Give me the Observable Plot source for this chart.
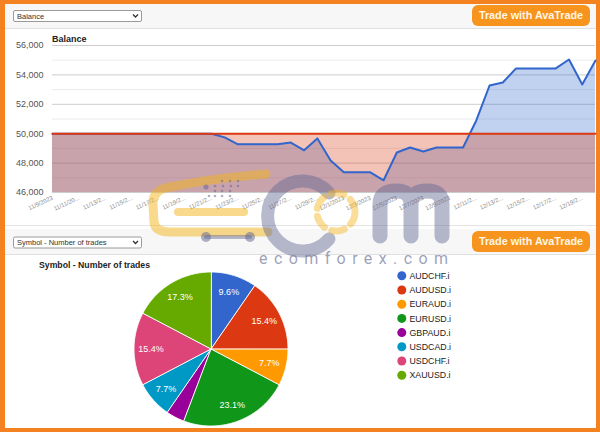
<!DOCTYPE html>
<html><head><meta charset="utf-8">
<script src="https://cdn.jsdelivr.net/npm/d3@7"></script>
<script src="https://cdn.jsdelivr.net/npm/@observablehq/plot@0.6"></script>
<style>
html,body{margin:0;padding:0;}
body{width:600px;height:432px;background:#f58220;position:relative;overflow:hidden;font-family:"Liberation Sans",Arial,sans-serif;}
.abs{position:absolute;}
#frame{left:5px;top:4px;width:591px;height:424px;background:#fff;}
.hdr{left:5px;width:591px;background:#f7f7f7;border-bottom:1px solid #e0e0e0;box-sizing:border-box;}
.btn{left:472px;width:118px;height:21px;background:#f7941d;border-radius:6px;color:#fff6e6;font-weight:bold;font-size:10.8px;text-align:center;line-height:21px;}
</style>
</head><body>
<div id="frame" class="abs"></div>
<div class="abs hdr" style="top:4px;height:25px;"></div>
<div class="abs" style="left:5px;top:225px;width:591px;height:1px;background:#e4e4e4"></div>
<div class="abs hdr" style="top:229px;height:26px;"></div>
<div class="abs btn" style="top:5px;">Trade with AvaTrade</div>
<div class="abs btn" style="top:231px;">Trade with AvaTrade</div>
<div id="balanceChart" class="abs" style="left:0;top:0;"></div>
<div id="pieChart" class="abs" style="left:0;top:255px;"></div>
<svg id="ui" class="abs" width="600" height="432" style="left:0;top:0;pointer-events:none;font-family:'Liberation Sans',Arial,sans-serif"></svg>
<svg id="wm" class="abs" width="600" height="432" style="left:0;top:0;pointer-events:none">
  <g fill="none" stroke-linecap="round" stroke-linejoin="round">
    <path d="M266 174 Q215 178 165 188 Q152 192 153 205 L154 222 Q155 232 170 232 L268 232" stroke="#f4b41a" stroke-opacity="0.5" stroke-width="9"/>
    <path d="M178 212 L244 212" stroke="#f4b41a" stroke-opacity="0.5" stroke-width="8"/>
    <path d="M329 193 A35 35 0 1 0 329 239" stroke="#5f6390" stroke-opacity="0.45" stroke-width="13"/>
    <circle cx="336" cy="212" r="19" stroke="#f4b41a" stroke-opacity="0.45" stroke-width="7" stroke-dasharray="13 8"/>
    <path d="M380 236 L380 204 Q380 191 396 191 Q411 191 411 204 L411 236 M411 204 Q411 191 427 191 Q442 191 442 204 L442 236" stroke="#5f6390" stroke-opacity="0.45" stroke-width="15"/>
    <path d="M206 237 L250 237" stroke="#5f6390" stroke-opacity="0.45" stroke-width="4"/>
  </g>
  <g fill="#5f6390" fill-opacity="0.5">
    <circle cx="206" cy="237" r="5"/><circle cx="250" cy="237" r="5"/>
    <circle cx="206" cy="187" r="2.6"/>
    <circle cx="222" cy="181" r="1.3"/><circle cx="230" cy="181" r="1.3"/><circle cx="238" cy="181" r="1.3"/>
    <circle cx="215" cy="186" r="1.3"/><circle cx="223" cy="186" r="1.3"/><circle cx="231" cy="186" r="1.3"/><circle cx="238" cy="186" r="1.3"/>
    <circle cx="215" cy="191" r="1.3"/><circle cx="222" cy="191" r="1.3"/><circle cx="230" cy="191" r="1.3"/>
    <circle cx="209" cy="196" r="1.3"/><circle cx="215" cy="196" r="1.3"/><circle cx="222" cy="196" r="1.3"/><circle cx="230" cy="196" r="1.3"/>
  </g>
  <text x="259" y="264" font-family="Roboto, 'Liberation Sans', sans-serif" font-size="16" fill="#7d819f" fill-opacity="0.75" textLength="189" lengthAdjust="spacing">ecomforex.com</text>
</svg>
<script>
// ---------- Balance chart data ----------
const dates = ["11/9/2023","11/10/2023","11/11/2023","11/12/2023","11/13/2023","11/14/2023","11/15/2023","11/16/2023","11/17/2023","11/18/2023","11/19/2023","11/20/2023","11/21/2023","11/22/2023","11/23/2023","11/24/2023","11/25/2023","11/26/2023","11/27/2023","11/28/2023","11/29/2023","11/30/2023","12/1/2023","12/2/2023","12/3/2023","12/4/2023","12/5/2023","12/6/2023","12/7/2023","12/8/2023","12/9/2023","12/10/2023","12/11/2023","12/12/2023","12/13/2023","12/14/2023","12/15/2023","12/16/2023","12/17/2023","12/18/2023","12/19/2023","12/20/2023"];
const balance = [50000,50000,50000,50000,50000,50000,50000,50000,50000,50000,50000,50000,50000,49750,49280,49280,49280,49280,49400,48870,49680,48180,47370,47370,47370,46830,48720,49060,48790,49060,49060,49060,50900,53280,53480,54440,54440,54440,54440,55050,53350,54980];
const startingBalance = 50000;
const yTicks = [46000,48000,50000,52000,54000,56000];
const yMinorTicks = [47000,49000,51000,53000,55000];
const xTickDates = ["11/9/2023","11/11/2023","11/13/2023","11/15/2023","11/17/2023","11/19/2023","11/21/2023","11/23/2023","11/25/2023","11/27/2023","11/29/2023","12/1/2023","12/3/2023","12/5/2023","12/7/2023","12/9/2023","12/11/2023","12/13/2023","12/15/2023","12/17/2023","12/19/2023"];
const xTickLabels = ["11/9/2023","11/11/20...","11/13/2...","11/15/2...","11/17/2...","11/19/2...","11/21/2...","11/23/2...","11/25/2...","11/27/2...","11/29/2...","12/1/2023","12/3/2023","12/5/2023","12/7/2023","12/9/2023","12/11/2...","12/13/2...","12/15/2...","12/17/2...","12/19/2..."];

// ---------- Pie data ----------
const symbols = ["AUDCHF.i","AUDUSD.i","EURAUD.i","EURUSD.i","GBPAUD.i","USDCAD.i","USDCHF.i","XAUUSD.i"];
const tradeCounts = [5,8,4,12,2,4,8,9];
const sliceColors = ["#3366cc","#dc3912","#ff9900","#109618","#990099","#0099c6","#dd4477","#66aa00"];

const FONT = '"Liberation Sans", Arial, sans-serif';

// ---------- Balance chart ----------
const rows = dates.map((d, i) => ({date: d, balance: balance[i], start: startingBalance}));
const balanceChart = Plot.plot({
  width: 600, height: 228,
  marginLeft: 52, marginRight: 5, marginTop: 45, marginBottom: 36,
  style: {background: "transparent", fontFamily: FONT, overflow: "visible"},
  x: {type: "point", domain: dates, range: [52, 595], padding: 0, round: false},
  y: {domain: [46000, 56000], range: [192, 45]},
  marks: [
    Plot.ruleY(yMinorTicks, {stroke: "#ebebeb"}),
    Plot.ruleY(yTicks, {stroke: "#cccccc"}),
    Plot.areaY(rows, {x: "date", y: "balance", fill: "#3366cc", fillOpacity: 0.3, clip: true}),
    Plot.areaY(rows, {x: "date", y: "start", fill: "#dc3912", fillOpacity: 0.3, clip: true}),
    Plot.lineY(rows, {x: "date", y: "balance", stroke: "#3366cc", strokeWidth: 2}),
    Plot.lineY(rows, {x: "date", y: "start", stroke: "#dc3912", strokeWidth: 2}),
    Plot.axisY(yTicks, {tickFormat: d3.format(","), tickSize: 0, tickPadding: 9, fontSize: 9, color: "#555", label: null}),
    Plot.axisX(xTickDates, {tickFormat: d => xTickLabels[xTickDates.indexOf(d)], tickRotate: -25, tickSize: 0, tickPadding: 5, fontSize: 6, color: "#8a8a8a", label: null})
  ]
});
document.getElementById("balanceChart").appendChild(balanceChart);

// ---------- Pie chart ----------
const total = d3.sum(tradeCounts);
const arcs = d3.pie().sort(null).value(d => d)(tradeCounts);
const piePts = [];
arcs.forEach((a, k) => {
  const sym = symbols[k];
  piePts.push({symbol: sym, x: 0, y: 0});
  const n = Math.max(2, Math.ceil((a.endAngle - a.startAngle) / 0.01));
  for (let j = 0; j <= n; j++) {
    const t = a.startAngle + (a.endAngle - a.startAngle) * j / n;
    piePts.push({symbol: sym, x: Math.sin(t), y: Math.cos(t)});
  }
});
const pct = d3.format(".1%");
const pieLabels = arcs.filter(a => a.value / total >= 0.05).map(a => {
  const m = (a.startAngle + a.endAngle) / 2;
  return {x: 0.78 * Math.sin(m), y: 0.78 * Math.cos(m), text: pct(a.value / total)};
});
const R = 77, PW = 380, PH = 173, cx = 210.5, cy = 93.5;
const pieChart = Plot.plot({
  width: PW, height: PH, margin: 0,
  style: {background: "transparent", fontFamily: FONT, overflow: "visible"},
  x: {domain: [-cx / R, (PW - cx) / R], axis: null},
  y: {domain: [-(PH - cy) / R, cy / R], axis: null},
  color: {domain: symbols, range: sliceColors},
  marks: [
    Plot.line(piePts, {x: "x", y: "y", z: "symbol", fill: "symbol", stroke: "white", strokeWidth: 1, curve: "linear-closed"}),
    Plot.text(pieLabels, {x: "x", y: "y", text: "text", fill: "white", fontSize: 9})
  ]
});
document.getElementById("pieChart").appendChild(pieChart);

// ---------- UI chrome: dropdowns, titles, legend ----------
const ui = d3.select("#ui");
function dropdown(y, label) {
  ui.append("rect").attr("x", 13.5).attr("y", y + 0.5).attr("width", 128).attr("height", 11).attr("rx", 1.5)
    .attr("fill", "#fff").attr("stroke", "#9a9a9a");
  ui.append("text").attr("x", 17).attr("y", y + 8.8).attr("font-size", 7.5).attr("fill", "#333").text(label);
  ui.append("polyline").attr("points", `${133},${y + 4.5} ${135.5},${y + 7} ${138},${y + 4.5}`)
    .attr("fill", "none").attr("stroke", "#333").attr("stroke-width", 1.3);
}
dropdown(10, "Balance");
dropdown(236.5, "Symbol - Number of trades");
ui.append("text").attr("x", 52).attr("y", 42).attr("font-size", 9).attr("font-weight", "bold").attr("fill", "#222").text("Balance");
ui.append("text").attr("x", 39).attr("y", 268).attr("font-size", 8.7).attr("font-weight", "bold").attr("fill", "#222").text("Symbol - Number of trades");
symbols.forEach((s, k) => {
  const y = 275.8 + k * 14.2;
  ui.append("circle").attr("cx", 401.8).attr("cy", y).attr("r", 4.5).attr("fill", sliceColors[k]);
  ui.append("text").attr("x", 409.5).attr("y", y + 3.2).attr("font-size", 8.8).attr("fill", "#222").text(s);
});
</script>
</body></html>
